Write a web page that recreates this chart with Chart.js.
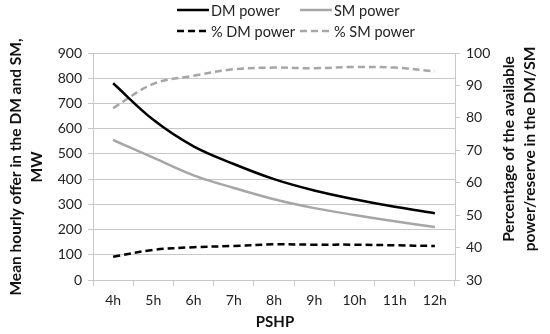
<!DOCTYPE html>
<html>
<head>
    <meta charset="UTF-8">
    <title>PSHP offer</title>
    <script src="https://cdn.jsdelivr.net/npm/chart.js"></script>
    <style>
        html, body { margin: 0; padding: 0; background: #fff; }
        #wrap { width: 550px; height: 334px; position: relative; }
    </style>
</head>
<body>
    <div id="wrap"><canvas id="chart"></canvas></div>
    <script>
        // data
        var labels = ['4h', '5h', '6h', '7h', '8h', '9h', '10h', '11h', '12h'];
        var dmPower = [780, 635, 530, 460, 400, 355, 320, 290, 265];
        var smPower = [555, 485, 415, 365, 320, 285, 258, 233, 210];
        var dmPct = [37.2, 39.3, 40.1, 40.5, 41.0, 40.9, 40.9, 40.7, 40.5];
        var smPct = [83.0, 90.5, 93.0, 95.0, 95.5, 95.3, 95.7, 95.5, 94.3];

        var FONT = 'Lato, "Open Sans", sans-serif';
        var GRID = '#c8c8c8';
        var GREY = '#a6a6a6';

        // legend and axis titles drawn by hand (two-row legend, right title reads upward)
        var extras = {
            id: 'extras',
            afterDraw: function (chart) {
                var c = chart.ctx;
                var items = [
                    { ds: 0, x: 177, y: 10 },
                    { ds: 1, x: 300, y: 10 },
                    { ds: 2, x: 177, y: 31 },
                    { ds: 3, x: 300, y: 31 }
                ];
                c.save();
                c.font = '14.5px ' + FONT;
                c.textBaseline = 'middle';
                items.forEach(function (it) {
                    var d = chart.data.datasets[it.ds];
                    c.beginPath();
                    c.strokeStyle = d.borderColor;
                    c.lineWidth = d.borderWidth;
                    c.setLineDash(d.borderDash || []);
                    c.moveTo(it.x, it.y);
                    c.lineTo(it.x + 32, it.y);
                    c.stroke();
                    c.setLineDash([]);
                    c.fillStyle = '#222';
                    c.fillText(d.label, it.x + 34, it.y + 1);
                });

                c.font = 'bold 15px ' + FONT;
                c.fillStyle = '#111';
                c.textAlign = 'center';
                c.fillText('PSHP', 275, 322);

                function vtitle(x, y, lines) {
                    c.save();
                    c.translate(x, y);
                    c.rotate(-Math.PI / 2);
                    lines.forEach(function (t, i) {
                        c.fillText(t, 0, i * 21);
                    });
                    c.restore();
                }
                c.font = 'bold 15.5px ' + FONT;
                vtitle(16, 167, ['Mean hourly offer in the DM and SM,', 'MW']);
                vtitle(509, 149, ['Percentage of the available', 'power/reserve in the DM/SM']);
                c.restore();
            }
        };

        var ctx = document.getElementById('chart').getContext('2d');
        var chart = new Chart(ctx, {
            type: 'line',
            data: {
                labels: labels,
                datasets: [
                    { label: 'DM power', data: dmPower, borderColor: '#000', borderWidth: 2.5, yAxisID: 'y' },
                    { label: 'SM power', data: smPower, borderColor: GREY, borderWidth: 2.5, yAxisID: 'y' },
                    { label: '% DM power', data: dmPct, borderColor: '#000', borderWidth: 2.5, borderDash: [7, 4], yAxisID: 'y1' },
                    { label: '% SM power', data: smPct, borderColor: GREY, borderWidth: 2.5, borderDash: [7, 4], yAxisID: 'y1' }
                ]
            },
            options: {
                responsive: true,
                maintainAspectRatio: false,
                animation: false,
                layout: { padding: { top: 53, left: 0, right: 0, bottom: 0 } },
                elements: { point: { radius: 0 }, line: { tension: 0.35 } },
                plugins: { legend: { display: false }, tooltip: { enabled: false } },
                scales: {
                    x: {
                        offset: true,
                        grid: { offset: true, drawOnChartArea: false, color: GRID, tickLength: 6 },
                        border: { color: GRID },
                        ticks: { color: '#222', font: { family: FONT, size: 14 }, padding: 6 },
                        afterFit: function (s) { s.height = 54; }
                    },
                    y: {
                        position: 'left',
                        min: 0, max: 900,
                        ticks: { stepSize: 100, color: '#222', font: { family: FONT, size: 14 }, padding: 6 },
                        grid: { color: GRID, tickLength: 5 },
                        border: { color: GRID },
                        afterFit: function (s) { s.width = 93; }
                    },
                    y1: {
                        position: 'right',
                        min: 30, max: 100,
                        ticks: { stepSize: 10, color: '#222', font: { family: FONT, size: 14 }, padding: 6 },
                        grid: { drawOnChartArea: false, color: GRID, tickLength: 5 },
                        border: { color: GRID },
                        afterFit: function (s) { s.width = 95; }
                    }
                }
            },
            plugins: [extras]
        });
    </script>
</body>
</html>
